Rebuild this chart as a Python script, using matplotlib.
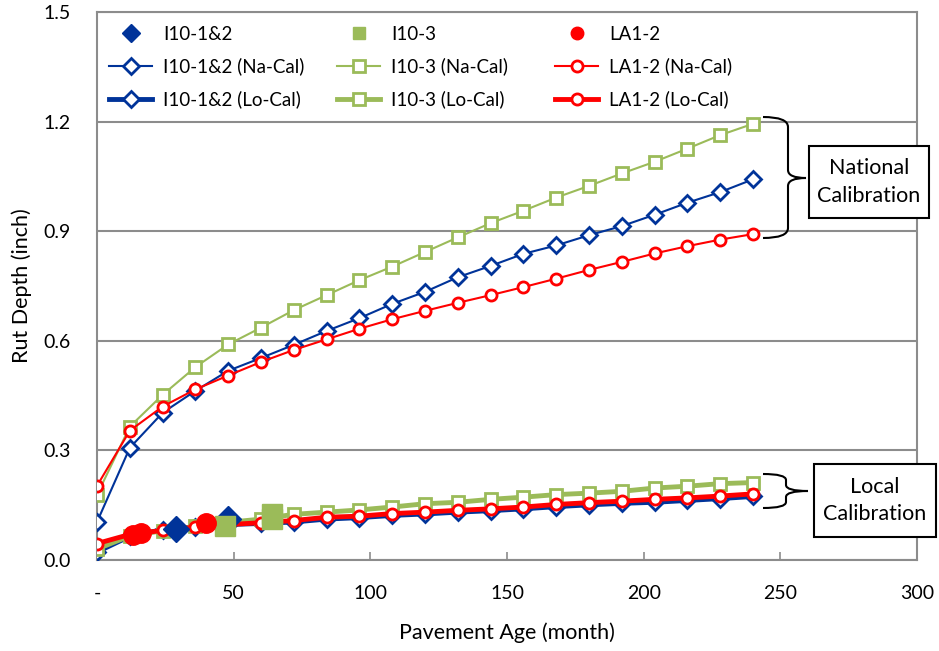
import matplotlib
matplotlib.use("Agg")
import matplotlib.pyplot as plt
from matplotlib.lines import Line2D
from matplotlib.patches import PathPatch, Rectangle
from matplotlib.path import Path

plt.rcParams['font.family'] = ['Lato', 'DejaVu Sans']

months = [0, 12, 24, 36, 48, 60, 72, 84, 96, 108, 120, 132, 144, 156, 168, 180, 192, 204, 216, 228, 240]

# national calibration predictions
i10_12_na = [0.104, 0.307, 0.403, 0.463, 0.518, 0.553, 0.589, 0.627, 0.662, 0.701, 0.734,
             0.774, 0.805, 0.838, 0.861, 0.889, 0.914, 0.945, 0.978, 1.007, 1.042]
i10_3_na = [0.178, 0.365, 0.452, 0.528, 0.590, 0.636, 0.684, 0.725, 0.766, 0.803, 0.843,
            0.883, 0.922, 0.956, 0.992, 1.024, 1.058, 1.090, 1.126, 1.163, 1.194]
la12_na = [0.203, 0.354, 0.420, 0.467, 0.505, 0.542, 0.575, 0.604, 0.633, 0.659, 0.682,
           0.704, 0.725, 0.747, 0.770, 0.794, 0.816, 0.839, 0.859, 0.877, 0.892]

# local calibration predictions
i10_12_lo = [0.022, 0.065, 0.083, 0.090, 0.097, 0.100, 0.104, 0.112, 0.116, 0.122, 0.126,
             0.131, 0.135, 0.140, 0.146, 0.151, 0.155, 0.158, 0.163, 0.168, 0.174]
i10_3_lo = [0.030, 0.066, 0.080, 0.092, 0.103, 0.112, 0.125, 0.131, 0.137, 0.145, 0.154,
            0.158, 0.166, 0.172, 0.179, 0.183, 0.188, 0.197, 0.202, 0.209, 0.212]
la12_lo = [0.045, 0.070, 0.081, 0.090, 0.097, 0.102, 0.108, 0.117, 0.120, 0.127, 0.131,
           0.136, 0.140, 0.145, 0.152, 0.157, 0.161, 0.166, 0.170, 0.175, 0.181]

# measured
i10_12_age = [29, 48]
i10_12_rut = [0.085, 0.113]
i10_3_age = [47, 64, 64]
i10_3_rut = [0.092, 0.111, 0.125]
la12_age = [13, 16, 40]
la12_rut = [0.068, 0.075, 0.102]

blue = "#003399"
green = "#9BBB59"
red = "#FF0000"
grid_c = "#8C8C8C"

W, H = 939, 651
fig = plt.figure(figsize=(W / 100, H / 100), dpi=100)
ax = fig.add_axes([97 / W, 1 - 560 / H, 820 / W, 548 / H])


def fx(x, y):
    return (x / W, 1 - y / H)


# national lines
ax.plot(months, i10_12_na, color=blue, lw=1.5, marker="D", ms=8, mfc="white", mec=blue, mew=2, zorder=3)
ax.plot(months, i10_3_na, color=green, lw=1.5, marker="s", ms=8, mfc="white", mec=green, mew=2, zorder=3)
ax.plot(months, la12_na, color=red, lw=1.5, marker="o", ms=8, mfc="white", mec=red, mew=2, zorder=3)

# local lines
ax.plot(months, i10_12_lo, color=blue, lw=3.5, marker="D", ms=8, mfc="white", mec=blue, mew=2, zorder=4)
ax.plot(months, i10_3_lo, color=green, lw=3.5, marker="s", ms=8, mfc="white", mec=green, mew=2, zorder=4)
ax.plot(months, la12_lo, color=red, lw=3.5, marker="o", ms=8, mfc="white", mec=red, mew=2, zorder=5)

# measured points
ax.plot(i10_12_age, i10_12_rut, ls="none", marker="D", ms=13, color=blue, zorder=6)
ax.plot(i10_3_age, i10_3_rut, ls="none", marker="s", ms=14, color=green, zorder=7)
ax.plot(la12_age, la12_rut, ls="none", marker="o", ms=14, color=red, zorder=8)

ax.set_xlim(0, 300)
ax.set_ylim(0, 1.5)
ax.set_xticks([0, 50, 100, 150, 200, 250, 300])
ax.set_xticklabels(["-", "50", "100", "150", "200", "250", "300"])
ax.set_yticks([0, 0.3, 0.6, 0.9, 1.2, 1.5])
ax.set_yticklabels(["0.0", "0.3", "0.6", "0.9", "1.2", "1.5"])
ax.tick_params(axis="x", direction="in", length=6, width=1.2, color=grid_c, pad=18, labelsize=14)
ax.tick_params(axis="y", length=0, pad=19, labelsize=14)
ax.yaxis.grid(True, color=grid_c, lw=1.5)
ax.set_axisbelow(True)
for s in ax.spines.values():
    s.set_color(grid_c)
    s.set_linewidth(1.5)

ax.set_xlabel("Pavement Age (month)", fontsize=15.5, labelpad=15)
ax.set_ylabel("Rut Depth (inch)", fontsize=15.5, labelpad=8)

# legends, one per column
names = ["I10-1&2", "I10-3", "LA1-2"]
colors = [blue, green, red]
marks = ["D", "s", "o"]
col_x = [109, 337, 555]
legs = []
for i in range(3):
    c, m, n = colors[i], marks[i], names[i]
    hs = [Line2D([], [], ls="none", marker=m, ms=9, color=c),
          Line2D([], [], color=c, lw=1.5, marker=m, ms=8, mfc="white", mec=c, mew=2),
          Line2D([], [], color=c, lw=3.5, marker=m, ms=8, mfc="white", mec=c, mew=2)]
    ls = [n, n + " (Na-Cal)", n + " (Lo-Cal)"]
    leg = ax.legend(hs, ls, loc="upper left", bbox_to_anchor=fx(col_x[i], 26),
                    bbox_transform=fig.transFigure, frameon=False, fontsize=13.5,
                    borderpad=0, borderaxespad=0, handlelength=2.3, handletextpad=0.6,
                    labelspacing=0.78)
    legs.append(leg)
for leg in legs[:-1]:
    ax.add_artist(leg)


def brace(pts, codes):
    verts = [fx(x, y) for x, y in pts]
    p = PathPatch(Path(verts, codes), fill=False, lw=1.5, ec="black",
                  transform=fig.transFigure, clip_on=False)
    fig.add_artist(p)


M, L, C = Path.MOVETO, Path.LINETO, Path.CURVE3
codes = [M, C, C, L, C, C, C, C, L, C, C]

brace([(763, 117), (788, 117), (788, 127), (788, 170), (788, 178), (806, 178),
       (788, 178), (788, 186), (788, 228), (788, 238), (763, 238)], codes)
brace([(763, 474), (786, 474), (786, 480), (786, 485), (786, 491), (808, 491),
       (786, 491), (786, 497), (786, 502), (786, 508), (763, 508)], codes)

for (x0, y0, x1, y1, txt) in [(809, 146, 929, 218, "National\nCalibration"),
                              (814, 464, 936, 537, "Local\nCalibration")]:
    r = Rectangle(fx(x0, y1), (x1 - x0) / W, (y1 - y0) / H, transform=fig.transFigure,
                  fc="white", ec="black", lw=1.5)
    fig.add_artist(r)
    fig.text((x0 + x1) / 2 / W, 1 - (y0 + y1) / 2 / H, txt, ha="center", va="center",
             fontsize=15.5, linespacing=1.45)

fig.savefig("out.png", dpi=100)
